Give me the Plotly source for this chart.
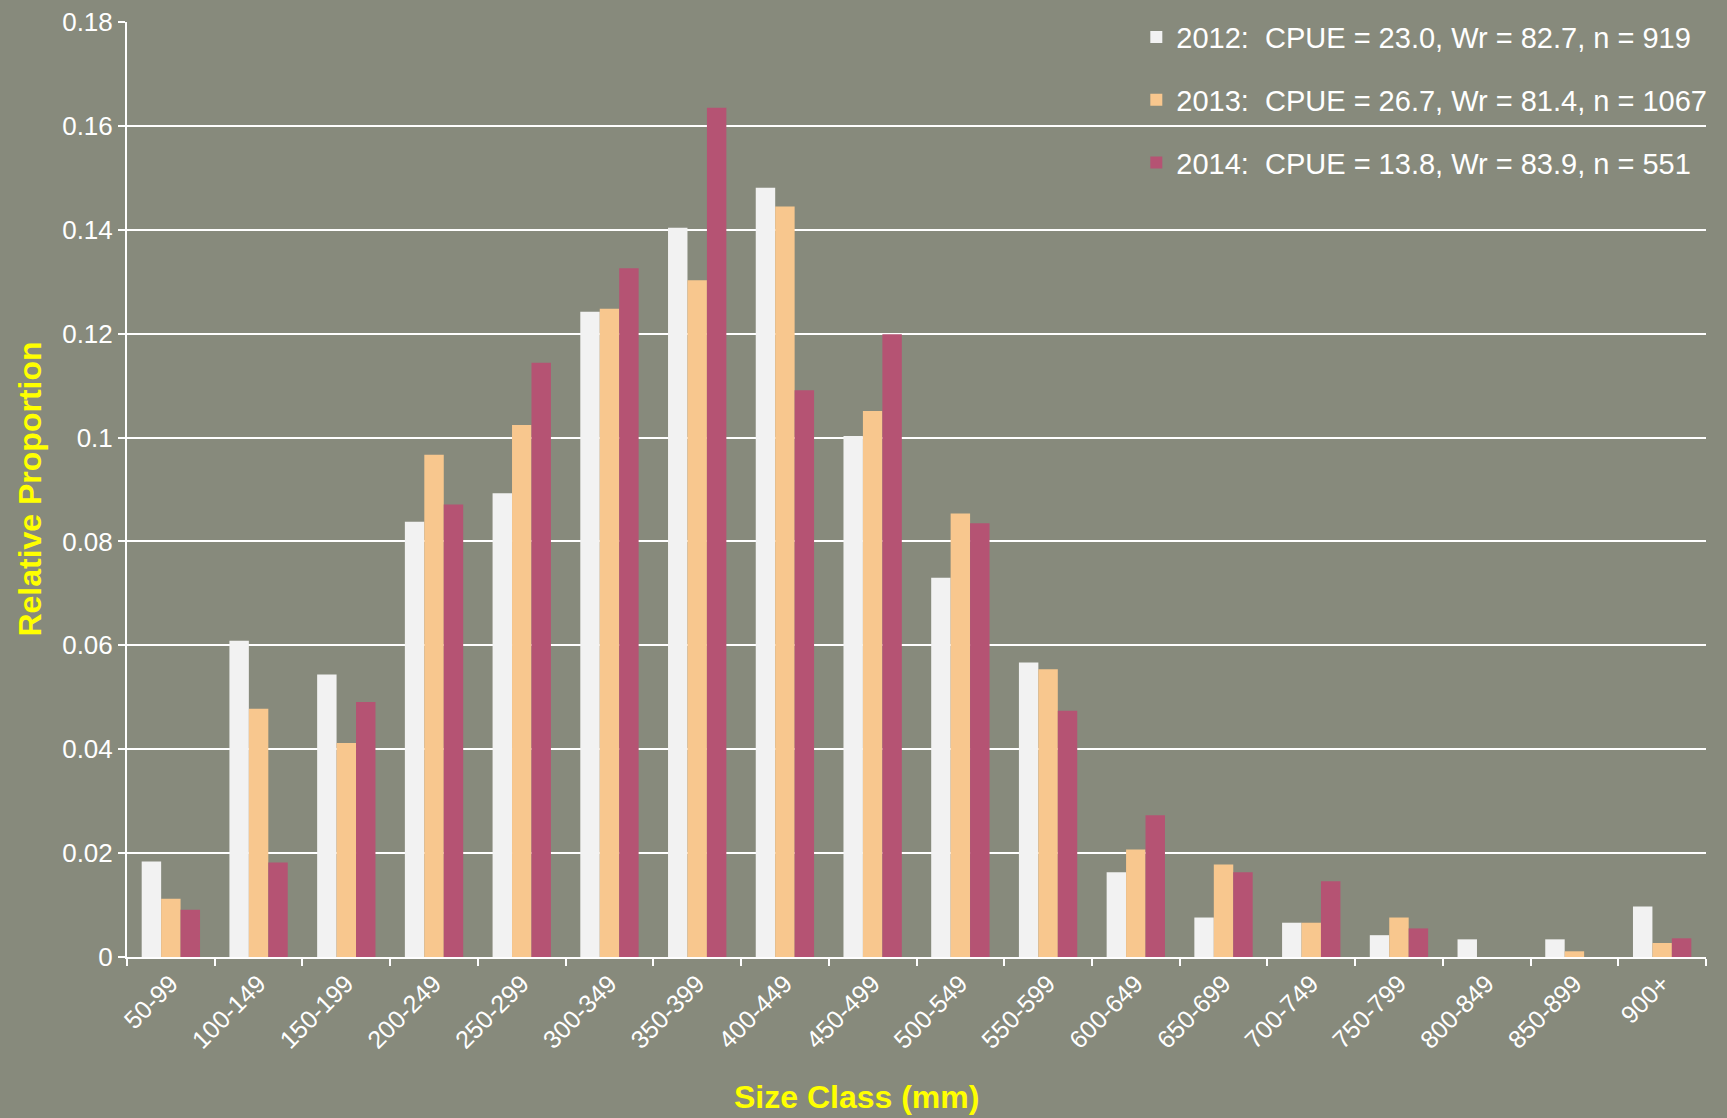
import plotly.graph_objects as go

categories = ["50-99", "100-149", "150-199", "200-249", "250-299", "300-349",
              "350-399", "400-449", "450-499", "500-549", "550-599", "600-649",
              "650-699", "700-749", "750-799", "800-849", "850-899", "900+"]

y2012 = [0.0184, 0.0609, 0.0544, 0.0838, 0.0893, 0.1242, 0.1404, 0.1481, 0.1003,
         0.0730, 0.0567, 0.0163, 0.0076, 0.0066, 0.0042, 0.0034, 0.0034, 0.0097]
y2013 = [0.0112, 0.0478, 0.0412, 0.0967, 0.1024, 0.1248, 0.1303, 0.1445, 0.1051,
         0.0854, 0.0554, 0.0207, 0.0178, 0.0066, 0.0076, 0.0, 0.0011, 0.0027]
y2014 = [0.0091, 0.0182, 0.0491, 0.0871, 0.1144, 0.1326, 0.1635, 0.1091, 0.1199,
         0.0835, 0.0474, 0.0273, 0.0163, 0.0146, 0.0055, 0.0, 0.0, 0.0036]

names = ["2012:\u00a0 CPUE = 23.0, Wr = 82.7, n = 919",
         "2013:\u00a0 CPUE = 26.7, Wr = 81.4, n = 1067",
         "2014:\u00a0 CPUE = 13.8, Wr = 83.9, n = 551"]
colors = ["#f2f2f2", "#f8c78e", "#b55373"]
yticks = [0, 0.02, 0.04, 0.06, 0.08, 0.1, 0.12, 0.14, 0.16, 0.18]
ytick_text = ["0", "0.02", "0.04", "0.06", "0.08", "0.1", "0.12", "0.14", "0.16", "0.18"]
x_title = "Size Class (mm)"
y_title = "Relative Proportion"

bg = "#878a7c"
font_main = "Liberation Sans, Arial, sans-serif"

fig = go.Figure()
for i, (name, vals, col) in enumerate(zip(names, [y2012, y2013, y2014], colors)):
    fig.add_trace(go.Bar(x=categories, y=vals, name=name, marker_color=col,
                         marker_line_width=0, legendgroup=str(i)))

fig.update_layout(
    width=1727, height=1118,
    paper_bgcolor=bg, plot_bgcolor=bg,
    barmode="group", bargap=0.335, bargroupgap=0,
    margin=dict(l=127, r=21, t=20, b=161),
    font=dict(family=font_main, color="white"),
    legend=dict(x=1.004, y=1.011, xanchor="right", yanchor="top",
                bgcolor="rgba(0,0,0,0)", font=dict(size=29, color="white"),
                traceorder="grouped", tracegroupgap=22, itemwidth=30),
    xaxis=dict(
        type="category", showgrid=False, showline=True, linecolor="white", linewidth=2,
        ticks="outside", tickson="boundaries", ticklen=7, tickwidth=2, tickcolor="white",
        tickangle=-45, tickfont=dict(size=25, color="white"),
        automargin=False,
    ),
    yaxis=dict(
        range=[0, 0.18], tickvals=yticks, ticktext=ytick_text,
        showgrid=True, gridcolor="white", gridwidth=2,
        showline=True, linecolor="white", linewidth=2,
        ticks="outside", ticklen=7, tickwidth=2, tickcolor="white",
        tickfont=dict(size=26, color="white"), zeroline=False,
        automargin=False,
    ),
    annotations=[
        dict(text="<b>" + x_title + "</b>", xref="paper", yref="paper",
             x=0.4623, y=-0.1494, xanchor="center", yanchor="middle", showarrow=False,
             font=dict(size=32, color="#ffff00", family=font_main)),
        dict(text="<b>" + y_title + "</b>", xref="paper", yref="paper", textangle=-90,
             x=-0.062, y=0.5, xanchor="center", yanchor="middle", showarrow=False,
             font=dict(size=32, color="#ffff00", family=font_main)),
    ],
)

fig.write_html("out.html", config={"displayModeBar": False},
               post_script="document.body.style.margin='0';")
